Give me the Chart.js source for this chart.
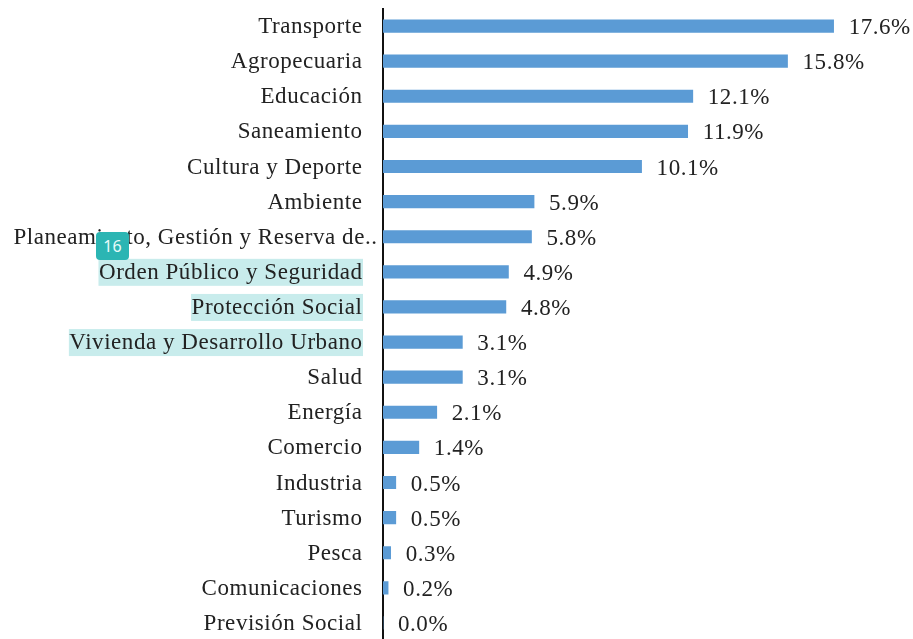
<!DOCTYPE html>
<html><head><meta charset="utf-8">
<style>
html,body{margin:0;padding:0;background:#fff;overflow:hidden;width:913px;height:639px}
#wrap{position:relative;width:913px;height:642px}
#badge{position:absolute;left:96px;top:232px;width:33px;height:28px;background:#2bb5b3;border-radius:4px;color:#e8fbfa;font:16px "Noto Sans",sans-serif;line-height:29px;text-align:center;z-index:2}
</style>
<script src="https://cdn.jsdelivr.net/npm/chart.js@4/dist/chart.umd.min.js"></script>
</head><body>
<div id="wrap"><canvas id="c" width="913" height="642"></canvas><div id="badge">16</div></div>
<script>
const categories = ["Transporte","Agropecuaria","Educación","Saneamiento","Cultura y Deporte","Ambiente","Planeamiento, Gestión y Reserva de..","Orden Público y Seguridad","Protección Social","Vivienda y Desarrollo Urbano","Salud","Energía","Comercio","Industria","Turismo","Pesca","Comunicaciones","Previsión Social"];
const shares = [17.6,15.8,12.1,11.9,10.1,5.9,5.8,4.9,4.8,3.1,3.1,2.1,1.4,0.5,0.5,0.3,0.2,0.0];
const highlighted = ["Orden Público y Seguridad","Protección Social","Vivienda y Desarrollo Urbano"];
const longLabel = "Planeamiento, Gestión y Reserva de..";

const FONT = {family:'"Liberation Serif","Times New Roman",serif', size:23};
const fontStr = FONT.size+'px '+FONT.family;
const SPACING = '0.55px';
const INK = '#222222';

const annot = {
  id:'annot',
  beforeDraw(chart){
    const {ctx,scales:{y}} = chart;
    ctx.letterSpacing = SPACING;
    y.getLabelItems().forEach(it=>{
      if(it._moved) return;
      it.options.translation[1]+=1;
      if(it.label===longLabel) it.options.translation[0]+=15;
      it._moved=true;
    });
    ctx.save();
    ctx.font = fontStr;
    ctx.fillStyle = '#c8ecec';
    highlighted.forEach(name=>{
      const i = categories.indexOf(name);
      const w = ctx.measureText(name).width;
      const py = y.getPixelForTick(i);
      ctx.fillRect(363-w-1, py-13, w+1, 27);
    });
    ctx.restore();
  },
  afterDatasetsDraw(chart){
    const {ctx,scales:{x,y}} = chart;
    ctx.save();
    ctx.font = fontStr;
    ctx.fillStyle = INK;
    ctx.textBaseline = 'middle';
    ctx.textAlign = 'left';
    shares.forEach((v,i)=>{
      ctx.fillText(v.toFixed(1)+'%', x.getPixelForValue(v)+15, y.getPixelForTick(i)+2);
    });
    ctx.restore();
  }
};

new Chart(document.getElementById('c'),{
  type:'bar',
  data:{labels:categories,datasets:[{data:shares,backgroundColor:'#5b9bd5',barThickness:12.5,borderWidth:0}]},
  plugins:[annot],
  options:{
    indexAxis:'y',responsive:false,animation:false,
    layout:{padding:{left:0,right:0,top:8.5,bottom:1.5}},
    plugins:{legend:{display:false},tooltip:{enabled:false}},
    scales:{
      x:{display:false,min:0,max:20.7},
      y:{
        afterFit(s){s.width=383;s.paddingTop=0;s.paddingBottom=0;},
        grid:{display:true,drawOnChartArea:false,drawTicks:false},
        border:{display:true,color:'#111',width:2},
        ticks:{color:INK,font:FONT,padding:20.5,autoSkip:false,crossAlign:'near'}
      }
    }
  }
});
</script>
</body></html>
